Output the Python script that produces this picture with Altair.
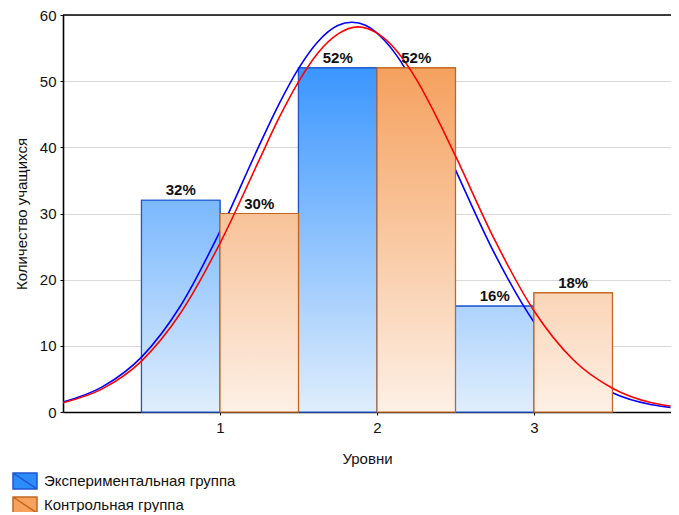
import altair as alt
import pandas as pd

# ---------------- data ----------------
levels = [1, 2, 3]
exp_counts = [32, 52, 16]
ctrl_counts = [30, 52, 18]
exp_labels = ["32%", "52%", "16%"]
ctrl_labels = ["30%", "52%", "18%"]
groups = ["Экспериментальная группа", "Контрольная группа"]

exp_curve_x = [0, 0.25, 0.5, 0.75, 1, 1.25, 1.375, 1.5, 1.625, 1.75, 1.84, 1.93,
               2.05, 2.125, 2.25, 2.375, 2.5, 2.75, 3, 3.25, 3.5, 3.75, 3.87]
exp_curve = [1.5, 3.8, 8.3, 16.1, 27.3, 40.3, 46.5, 51.9, 56.0, 58.4, 58.9, 58.4,
             56.1, 53.9, 49.0, 43.1, 36.6, 23.9, 13.6, 6.8, 2.9, 1.1, 0.7]
ctrl_curve_x = [0, 0.25, 0.5, 0.75, 1, 1.25, 1.375, 1.5, 1.625, 1.75, 1.88, 2.01,
                2.125, 2.25, 2.375, 2.5, 2.75, 3, 3.25, 3.5, 3.75, 3.87]
ctrl_curve = [1.4, 3.5, 7.7, 15.0, 25.5, 38.1, 44.4, 49.9, 54.3, 57.1, 58.2, 57.1,
              54.6, 50.3, 44.8, 38.7, 26.0, 15.3, 7.9, 3.6, 1.4, 0.9]

y_ticks = [0, 10, 20, 30, 40, 50, 60]
x_ticks = [1, 2, 3]
x_domain = [0, 3.873]
y_domain = [0, 60]
x_title = "Уровни"
y_title = "Количество учащихся"

# ---------------- tables ----------------
bars = pd.DataFrame({
    "level": levels * 2,
    "count": exp_counts + ctrl_counts,
    "label": exp_labels + ctrl_labels,
    "group": [groups[0]] * 3 + [groups[1]] * 3,
    "side": [0] * 3 + [1] * 3,
})
exp_df = pd.DataFrame({"x": exp_curve_x, "y": exp_curve})
ctrl_df = pd.DataFrame({"x": ctrl_curve_x, "y": ctrl_curve})

FONT = "Liberation Sans"
FS = 15
xscale = alt.Scale(domain=x_domain, nice=False, zero=False)
yscale = alt.Scale(domain=y_domain, nice=False, zero=False)

base = alt.Chart(bars).transform_calculate(
    x0="datum.level - 0.5 + 0.5 * datum.side",
    x1="datum.level + 0.5 * datum.side",
    y0="0",
)

xenc = alt.X("x0:Q", scale=xscale, title=x_title,
             axis=alt.Axis(values=x_ticks, format="d", grid=False))
yenc = alt.Y("count:Q", scale=yscale, title=y_title,
             axis=alt.Axis(values=y_ticks, grid=True))

legend_layer = base.mark_rect(strokeWidth=1.2).encode(
    x=xenc, x2="x1:Q", y=yenc, y2="y0:Q",
    fill=alt.Fill("group:N", scale=alt.Scale(domain=groups, range=["#2C8CF8", "#F6A25E"]),
                  legend=alt.Legend(title=None)),
    stroke=alt.Stroke("group:N", scale=alt.Scale(domain=groups, range=["#1F55D0", "#C2651E"]),
                      legend=alt.Legend(title=None)),
)

def lerp(c0, c1, t):
    return "#%02x%02x%02x" % tuple(round(a + (b - a) * t) for a, b in zip(c0, c1))

BLUE_TOP, BLUE_BOT = (58, 150, 255), (224, 238, 252)
OR_TOP, OR_BOT = (245, 161, 94), (253, 240, 230)

def bar_layers(side, counts, top, bot, stroke):
    out = []
    for lv, v in zip(levels, counts):
        grad = alt.LinearGradient(
            gradient="linear",
            stops=[alt.GradientStop(offset=0, color=lerp(bot, top, v / 52)),
                   alt.GradientStop(offset=1, color=lerp(bot, bot, 0))],
            x1=0, x2=0, y1=0, y2=1,
        )
        out.append(
            base.transform_filter(f"datum.side == {side} && datum.level == {lv}")
            .mark_rect(fill=grad, stroke=stroke, strokeWidth=1.2)
            .encode(x="x0:Q", x2="x1:Q", y="count:Q", y2="y0:Q")
        )
    return out

blue_bars = bar_layers(0, exp_counts, BLUE_TOP, BLUE_BOT, "#1F55D0")
orange_bars = bar_layers(1, ctrl_counts, OR_TOP, OR_BOT, "#C2651E")

blue_line = alt.Chart(exp_df).mark_line(
    color="#0000FF", strokeWidth=1.6, interpolate="monotone", clip=True
).encode(x=alt.X("x:Q"), y=alt.Y("y:Q"))
red_line = alt.Chart(ctrl_df).mark_line(
    color="#FF0000", strokeWidth=1.6, interpolate="monotone", clip=True
).encode(x=alt.X("x:Q"), y=alt.Y("y:Q"))

# top frame line at the top of the y domain
top_frame = alt.Chart(pd.DataFrame({"a": [0]})).mark_rule(
    color="#000000", strokeWidth=1.6
).encode(x=alt.datum(x_domain[0]), x2=alt.datum(x_domain[1]), y=alt.datum(y_domain[1]))

labels = base.transform_calculate(xc="datum.x0 + 0.25").mark_text(
    font=FONT, fontSize=FS, fontWeight="bold", color="#111111",
    baseline="alphabetic", dy=-5,
).encode(x="xc:Q", y="count:Q", text="label:N")

chart = alt.layer(
    legend_layer, *blue_bars, blue_line, *orange_bars, red_line, top_frame, labels
).properties(
    width=608, height=397,
    autosize=alt.AutoSizeParams(type="none"),
    padding={"left": 55, "top": 7, "right": 0, "bottom": 100},
).configure_view(
    strokeWidth=0
).configure_axis(
    labelFont=FONT, titleFont=FONT, labelFontSize=FS, titleFontSize=FS,
    titleFontWeight="normal", labelColor="#111111", titleColor="#111111",
    domainColor="#000000", domainWidth=1.6, tickColor="#000000", tickSize=3,
    gridColor="#D9D9D9", gridWidth=1,
).configure_axisX(
    labelPadding=5, titlePadding=16,
).configure_axisY(
    labelPadding=4, titlePadding=10,
).configure_legend(
    orient="none", legendX=-47, legendY=457,
    symbolType="M-1.5,-1L1.5,-1L1.5,1L-1.5,1ZM-1.5,-1L1.5,1",
    symbolSize=256, symbolStrokeWidth=1.5, symbolOpacity=1,
    labelFont=FONT, labelFontSize=FS, labelColor="#111111", labelOffset=10,
    labelLimit=0, rowPadding=2, padding=0,
)

chart.save("out.html", embed_options={"renderer": "svg", "actions": False})
